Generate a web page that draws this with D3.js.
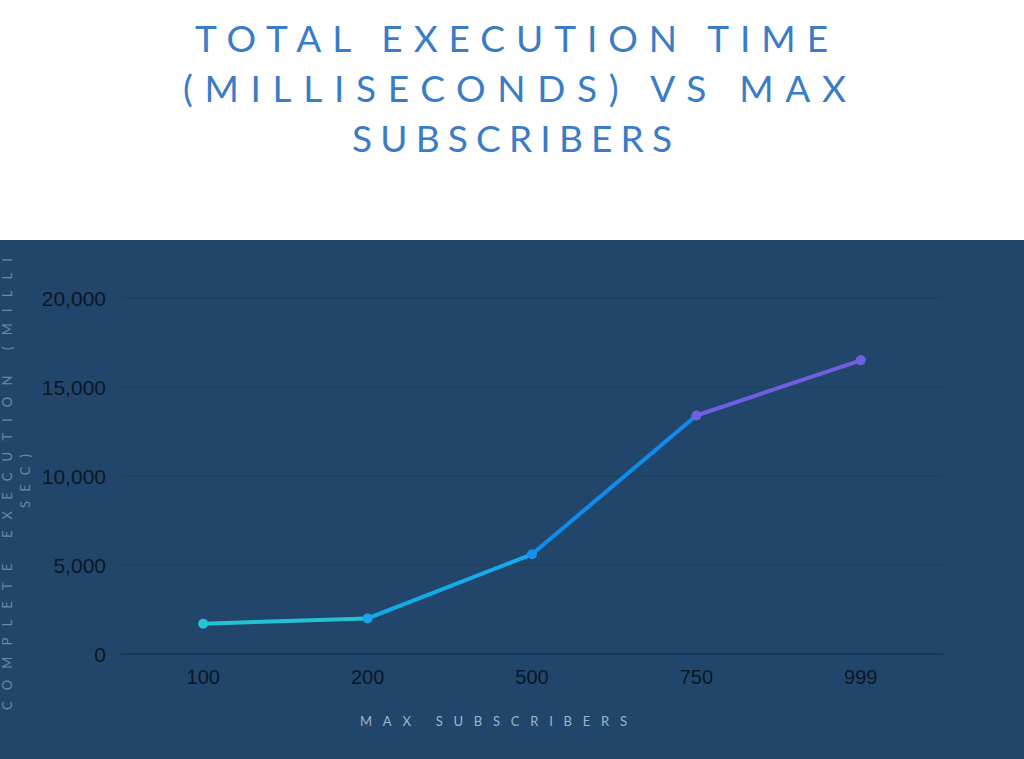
<!DOCTYPE html>
<html><head><meta charset="utf-8">
<script src="https://cdn.jsdelivr.net/npm/d3@7"></script>
<style>html,body{margin:0;padding:0;background:#fff;}svg{display:block;}</style>
</head><body>
<script>
const categories = ["100","200","500","750","999"];
const values = [1700, 2000, 5600, 13400, 16500];
const yTicks = [0, 5000, 10000, 15000, 20000];
const titleLines = ["TOTAL EXECUTION TIME", "(MILLISECONDS) VS MAX", "SUBSCRIBERS"];
const xTitle = "MAX SUBSCRIBERS";
const yTitleLines = ["COMPLETE EXECUTION (MILLI", "SEC)"];
const segColors = ["#22c3d3", "#14abe8", "#0f8ded", "#6e5fe0"];
const pointColors = ["#22c3d3", "#1aa2ea", "#1790ef", "#6f60e2", "#6f60e2"];

const W = 1024, H = 759;
const svg = d3.select("body").append("svg").attr("width", W).attr("height", H);

// title
const tW = [633, 663, 320];
const tX = [195, 183, 352];
titleLines.forEach((t, i) => {
  svg.append("text").attr("x", tX[i]).attr("y", 52 + i * 50)
    .attr("font-family", "Lato, 'Open Sans', sans-serif").attr("font-size", 37)
    .attr("fill", "#3a7cc7").attr("textLength", tW[i]).attr("lengthAdjust", "spacing")
    .text(t);
});

// panel
const panelTop = 240;
svg.append("rect").attr("x", 0).attr("y", panelTop).attr("width", W).attr("height", H - panelTop).attr("fill", "#22466b");

const x = d3.scaleBand().domain(categories).range([121, 943]);
const y = d3.scaleLinear().domain([0, 20000]).range([654, 298]);

// gridlines
svg.append("g").selectAll("line").data(yTicks).join("line")
  .attr("x1", 121).attr("x2", 943)
  .attr("y1", d => y(d)).attr("y2", d => y(d))
  .attr("stroke", d => d === 0 ? "#142d48" : "#1c3c5d").attr("stroke-width", 1);

// y axis
const yAxis = d3.axisLeft(y).tickValues(yTicks).tickSize(0).tickPadding(0).tickFormat(d3.format(","));
const gy = svg.append("g").attr("transform", "translate(106,0)").call(yAxis);
gy.select(".domain").remove();
gy.selectAll("text").attr("font-family", "'Liberation Sans', Arial, sans-serif").attr("font-size", 21).attr("fill", "#0b1726").attr("dy", "0.35em");

// x axis
const xAxis = d3.axisBottom(x).tickSize(0).tickPadding(0);
const gx = svg.append("g").attr("transform", "translate(0,670)").call(xAxis);
gx.select(".domain").remove();
gx.selectAll("text").attr("font-family", "'Liberation Sans', Arial, sans-serif").attr("font-size", 20).attr("fill", "#0b1726").attr("dy", "0.71em");

// x title
svg.append("text").attr("x", 360).attr("y", 726)
  .attr("font-family", "Lato, sans-serif").attr("font-size", 13).attr("fill", "#9fb4ca")
  .attr("textLength", 267).attr("lengthAdjust", "spacing").text(xTitle);

// y title (rotated)
const yt = svg.append("g");
yt.append("text").attr("transform", "translate(12,710) rotate(-90)")
  .attr("font-family", "Lato, sans-serif").attr("font-size", 13).attr("fill", "#6b86a4")
  .attr("textLength", 452).attr("lengthAdjust", "spacing").text(yTitleLines[0]);
yt.append("text").attr("transform", "translate(30,508) rotate(-90)")
  .attr("font-family", "Lato, sans-serif").attr("font-size", 13).attr("fill", "#6b86a4")
  .attr("textLength", 54).attr("lengthAdjust", "spacing").text(yTitleLines[1]);

// line segments
const pts = categories.map((c, i) => [x(c) + x.bandwidth() / 2, y(values[i])]);
const segs = d3.pairs(pts);
svg.append("g").selectAll("line").data(segs).join("line")
  .attr("x1", d => d[0][0]).attr("y1", d => d[0][1])
  .attr("x2", d => d[1][0]).attr("y2", d => d[1][1])
  .attr("stroke", (d, i) => segColors[i]).attr("stroke-width", 4).attr("stroke-linecap", "round");

svg.append("g").selectAll("circle").data(pts).join("circle")
  .attr("cx", d => d[0]).attr("cy", d => d[1]).attr("r", 5)
  .attr("fill", (d, i) => pointColors[i]);
</script>
</body></html>
